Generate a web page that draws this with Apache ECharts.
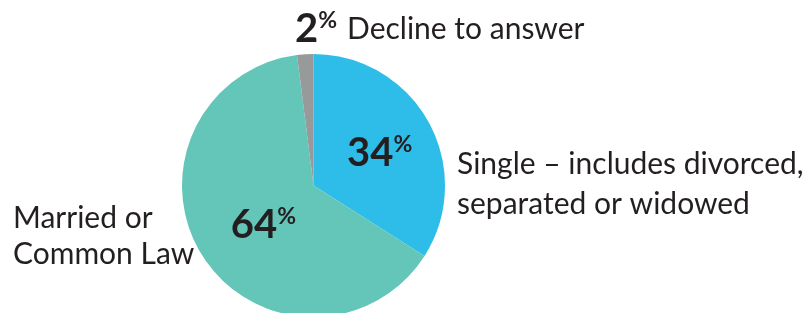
<!DOCTYPE html>
<html><head><meta charset="utf-8">
<script src="https://cdn.jsdelivr.net/npm/echarts@6/dist/echarts.min.js"></script>
<style>html,body{margin:0;padding:0;background:#fff}#c{width:803px;height:313px}</style>
</head><body><div id="c"></div>
<script>
const categories = ['Single – includes divorced,\nseparated or widowed', 'Married or\nCommon Law', 'Decline to answer'];
const values = [34, 64, 2];
const colors = ['#2dbde8', '#64c6b9', '#98999b'];

const FONT = 'Lato';
const INK = '#231f20';
const CENTER = [313.5, 185.5];
const RADIUS = 131.5;
const LINE_HEIGHTS = [40, 36, 40];

const chart = echarts.init(document.getElementById('c'), null, {renderer: 'canvas'});

const pctRich = {
  n: {fontFamily: FONT, fontWeight: 'bold', fontSize: 40, lineHeight: 40, color: INK},
  p: {fontFamily: FONT, fontWeight: 'bold', fontSize: 23, lineHeight: 22, verticalAlign: 'top', color: INK},
  t: {fontFamily: FONT, fontSize: 30, lineHeight: 40, color: INK, padding: [0, 0, 0, 10]}
};

const sliceData = values.map((v, i) => ({
  value: v, name: categories[i],
  itemStyle: {color: colors[i]},
  label: {show: i !== 2}
}));

const nameData = values.map((v, i) => ({
  value: v, name: categories[i],
  label: {lineHeight: LINE_HEIGHTS[i]}
}));

const outerPos = [
  {x: 457, y: 184.5},
  {x: 13, y: 236},
  {x: 295, y: 29}
];

chart.setOption({
  animation: false,
  series: [
    {
      type: 'pie', center: CENTER, radius: RADIUS, startAngle: 90, clockwise: true,
      silent: true, data: sliceData,
      itemStyle: {borderWidth: 0},
      label: {position: 'inside', formatter: p => '{n|' + p.value + '}{p|%}', rich: pctRich, overflow: 'none'},
      labelLine: {show: false},
      labelLayout: p => p.dataIndex === 0 ? {dx: 6, dy: 1} : {dx: 8, dy: 3}
    },
    {
      type: 'pie', center: CENTER, radius: RADIUS, startAngle: 90, clockwise: true,
      silent: true, data: nameData, z: 5,
      itemStyle: {color: 'rgba(0,0,0,0)', borderWidth: 0},
      label: {
        position: 'outside', overflow: 'none', width: 500,
        formatter: p => p.dataIndex === 2 ? '{n|' + p.value + '}{p|%}{t|' + p.name + '}' : p.name,
        fontFamily: FONT, fontSize: 30, color: INK,
        rich: pctRich
      },
      labelLine: {show: false},
      labelLayout: p => {
        const o = outerPos[p.dataIndex];
        return {x: o.x, y: o.y, align: 'left', verticalAlign: 'middle'};
      }
    }
  ]
});
</script></body></html>
